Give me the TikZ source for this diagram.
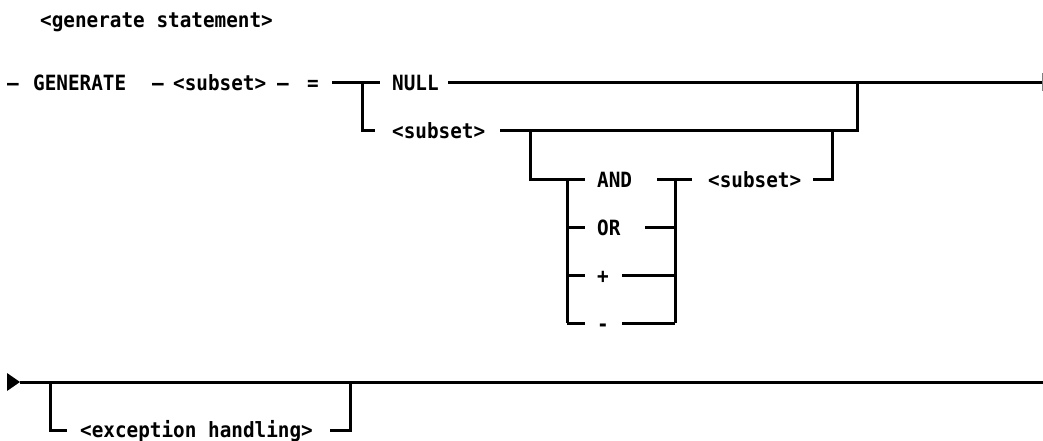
\documentclass[tikz,border=0pt]{standalone}
\usepackage{fontspec}
\setmonofont[FakeStretch=0.92]{DejaVu Sans Mono}
\usetikzlibrary{arrows.meta, positioning, calc}

\begin{document}
\begin{tikzpicture}[x=1pt, y=-1pt,
		rail/.style={line width=3pt},
		word/.style={font=\fontsize{21}{21}\selectfont\ttfamily\bfseries, inner sep=0pt, anchor=base west}]
	\useasboundingbox (0,0) rectangle (1043,440);
	\node[word] (title) at (40,27) {<generate statement>};
	% first line
	\node[word] (d1) at (7,90) {–};
	\node[word] (gen) at (33,90) {GENERATE};
	\node[word] (d2) at (152,90) {–};
	\node[word] (sub1) at (173,90) {<subset>};
	\node[word] (d3) at (277,90) {–};
	\node[word] (eq) at (307,90) {=};
	\node[word] (null) at (392,90) {NULL};
	\node[word] (sub2) at (392,138) {<subset>};
	\coordinate (a1) at (332,82); \coordinate (fk1) at (362,82); \coordinate (a2) at (380,82);
	\coordinate (b1) at (375,130);
	\coordinate (c1) at (448,82); \coordinate (c2) at (1042,82); \coordinate (j1) at (857,82);
	\coordinate (e1) at (500,130); \coordinate (e2) at (857,130); \coordinate (fk2) at (530,130);
	\draw[rail] (a1) -- (a2);
	\draw[rail] (fk1) |- (b1);
	\draw[rail] (c1) -- (c2);
	\draw[gray, line width=0.8pt] ($(c2)+(0,-9)$) -- ($(c2)+(0,9)$);
	\draw[rail] (e1) -- (e2) -- (j1);
	% operator block
	\node[word] (and) at (597,187) {AND};
	\node[word] (or) at (597,235) {OR};
	\node[word] (plus) at (597,283) {+};
	\node[word] (minus) at (597,331) {-};
	\node[word] (sub3) at (708,187) {<subset>};
	\coordinate (g1) at (585,179); \coordinate (lv1) at (567,179); \coordinate (lv2) at (567,323);
	\coordinate (rv1) at (675,179); \coordinate (rv2) at (675,323);
	\draw[rail] (fk2) |- (g1);
	\draw[rail] (lv1) -- (lv2);
	\draw[rail] (rv1) -- (rv2);
	\foreach \y in {227,275,323}
		\draw[rail] (567,\y) -- (585,\y);
	\draw[rail] (657,179) -- (692,179);
	\draw[rail] (645,227) -- (rv1 |- 0,227);
	\draw[rail] (622,275) -- (rv1 |- 0,275);
	\draw[rail] (622,323) -- (rv2);
	\coordinate (h1) at (813,179); \coordinate (h2) at (832,130);
	\draw[rail] (h1) -| (h2);
	% second line
	\node[word] (exc) at (80,437) {<exception handling>};
	\coordinate (s0) at (20,382); \coordinate (s1) at (1043,382);
	\coordinate (fk3) at (50,382); \coordinate (x1) at (67,430);
	\coordinate (x2) at (330,430); \coordinate (x3) at (350,382);
	\fill (7,373) -- (s0) -- (7,391) -- cycle;
	\draw[rail] (s0) -- (s1);
	\draw[rail] (fk3) |- (x1);
	\draw[rail] (x2) -| (x3);
\end{tikzpicture}
\end{document}
